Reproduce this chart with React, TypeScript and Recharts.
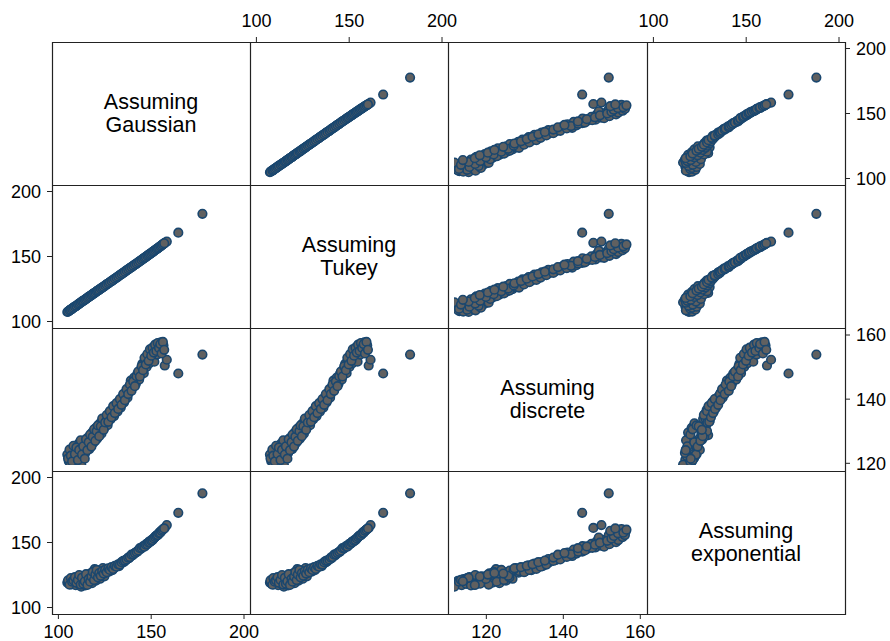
import React from 'react';
import { ScatterChart, Scatter, XAxis, YAxis } from 'recharts';

// ---------------- data ----------------
const variableKeys = ['gaussian', 'tukey', 'discrete', 'exponential'];
const diagonalLabels = [
  ['Assuming', 'Gaussian'],
  ['Assuming', 'Tukey'],
  ['Assuming', 'discrete'],
  ['Assuming', 'exponential'],
];

const gaussian = [
  104.8, 105.6, 106.3, 107.0, 107.8, 108.5, 109.3, 110.1, 110.9, 111.6,
  112.3, 113.0, 113.8, 114.5, 115.2, 115.9, 116.7, 117.4, 118.1, 118.8,
  119.5, 120.2, 120.9, 121.7, 122.4, 123.2, 124.0, 124.8, 125.6, 126.5,
  127.3, 128.2, 129.1, 130.0, 130.9, 131.8, 132.7, 133.6, 134.5, 135.4,
  136.3, 137.2, 138.1, 139.0, 139.9, 140.8, 141.7, 142.6, 143.5, 144.4,
  145.2, 146.0, 146.8, 147.5, 148.2, 148.9, 149.6, 150.3, 151.0, 151.7,
  152.4, 153.1, 153.8, 154.5, 155.2, 155.9, 156.6, 157.3, 158.4, 164.6,
  177.6,
  105.2, 106.0, 106.7, 107.4, 108.1, 108.9, 109.7, 110.5, 111.2, 112.0,
  112.7, 113.4, 114.2, 114.9, 115.6, 116.3, 117.1, 117.8, 118.5, 119.2,
  119.9, 120.6, 121.3, 122.0,
  122.8, 123.6, 124.4, 125.2, 126.0, 126.9, 127.7, 128.6, 129.5, 130.4,
  131.3, 132.2, 133.1, 134.0, 134.9, 135.8, 136.7, 137.6, 138.5, 139.4,
  140.3, 141.2, 142.1, 143.0, 143.9,
  144.8, 145.6, 146.4, 147.1, 147.9, 148.6, 149.3, 150.0, 150.7, 151.4,
  152.1, 152.8, 153.5, 154.2, 154.9, 155.6, 156.3, 157.0,
];
const tukey = [
  107.3, 108.0, 108.9, 109.4, 110.3, 111.1, 111.7, 112.6, 113.3, 114.2,
  114.8, 115.6, 116.2, 117.1, 117.7, 118.4, 119.3, 119.8, 120.6, 121.4,
  122.0, 122.7, 123.5, 124.1, 124.9, 125.6, 126.5, 127.2, 128.1, 128.9,
  129.8, 130.7, 131.5, 132.4, 133.4, 134.2, 135.2, 136.1, 137.0, 137.8,
  138.8, 139.7, 140.6, 141.5, 142.4, 143.3, 144.2, 145.1, 146.0, 146.9,
  147.8, 148.6, 149.4, 150.1, 150.9, 151.6, 152.3, 153.0, 153.8, 154.5,
  155.2, 155.9, 156.7, 157.4, 158.2, 158.9, 159.7, 160.5, 161.5, 168.3,
  182.8,
  107.6, 108.6, 109.1, 109.9, 110.6, 111.4, 112.1, 113.0, 113.8, 114.5,
  115.3, 115.9, 116.7, 117.4, 118.1, 118.9, 119.5, 120.3, 121.0, 121.7,
  122.3, 123.2, 123.8, 124.5,
  125.3, 126.1, 126.8, 127.7, 128.5, 129.4, 130.2, 131.1, 132.0, 132.9,
  133.8, 134.7, 135.6, 136.5, 137.4, 138.3, 139.3, 140.1, 141.0, 141.9,
  142.8, 143.7, 144.6, 145.5, 146.4,
  147.3, 148.2, 149.0, 149.7, 150.5, 151.2, 151.9, 152.6, 153.4, 154.1,
  154.8, 155.6, 156.3, 157.0, 157.8, 158.5, 159.3, 160.1,
];
const discrete = [
  115.4, 113.0, 112.6, 116.8, 114.1, 117.9, 113.6, 116.2, 119.4, 114.8,
  111.7, 117.3, 120.2, 116.0, 118.9, 121.6, 117.4, 120.8, 123.4, 119.6,
  122.5, 125.1, 121.2, 124.3, 126.8, 123.0, 127.6, 125.2, 128.4, 126.1,
  130.0, 128.3, 131.7, 129.4, 132.8, 131.0, 134.6, 132.5, 136.2, 134.4,
  138.0, 136.1, 139.5, 142.3, 139.8, 143.4, 141.1, 144.9, 142.7, 146.2,
  148.4, 145.0, 149.8, 147.3, 151.2, 148.6, 152.6, 150.1, 153.5, 149.2,
  154.6, 151.8, 155.8, 152.9, 156.2, 153.7, 155.1, 147.8, 149.9, 144.9,
  151.8,
  114.0, 117.2, 115.0, 112.9, 118.6, 115.6, 118.0, 113.4, 117.1, 120.6,
  115.4, 118.4, 113.9, 121.0, 117.0, 119.9, 122.7, 118.3, 121.9, 124.6,
  120.4, 123.9, 126.0, 122.1,
  125.7, 128.5, 124.4, 127.1, 129.8, 127.3, 131.2, 129.0, 133.0, 130.5,
  134.1, 132.0, 135.6, 133.5, 137.4, 135.2, 139.2, 137.4, 140.9, 138.6,
  142.0, 140.3, 143.9, 145.6, 143.8,
  147.5, 146.1, 150.6, 148.2, 152.0, 149.5, 153.7, 151.4, 154.3, 152.5,
  155.4, 153.1, 156.0, 154.2, 155.6, 152.2, 156.4, 153.5,
];
const exponential = [
  119.2, 118.6, 120.5, 117.8, 121.9, 118.9, 117.2, 120.3, 122.8, 118.1,
  116.0, 119.6, 121.4, 117.0, 123.9, 119.1, 121.0, 126.2, 118.7, 122.4,
  129.5, 120.6, 124.8, 127.7, 122.1, 125.9, 130.3, 124.0, 126.8, 128.4,
  127.5, 129.9, 128.7, 130.6, 131.3, 132.5, 131.9, 133.8, 134.6, 135.0,
  136.4, 137.3, 138.0, 139.6, 140.1, 141.5, 142.3, 143.0, 144.6, 145.1,
  146.3, 147.2, 147.6, 148.9, 149.4, 150.6, 150.8, 152.1, 152.5, 153.8,
  154.9, 155.6, 156.2, 157.8, 158.5, 159.6, 160.4, 161.2, 163.4, 172.8,
  187.8,
  120.9, 117.5, 122.6, 119.9, 120.8, 123.3, 119.0, 121.2, 125.0, 117.6,
  122.9, 118.3, 120.1, 125.6, 117.4, 122.0, 119.9, 123.8, 127.4, 121.1,
  125.3, 128.9, 123.2, 126.5,
  124.4, 128.0, 126.1, 129.1, 127.2, 130.1, 128.9, 131.0, 129.7, 132.1,
  131.4, 133.2, 133.0, 134.9, 135.8, 136.1, 137.0, 138.4, 138.9, 140.6,
  140.9, 141.9, 142.8, 143.9, 145.6,
  145.9, 147.0, 146.8, 148.3, 148.7, 149.9, 150.2, 151.3, 151.9, 153.1,
  154.2, 155.0, 155.7, 157.1, 157.5, 159.0, 159.9, 160.8,
];

const continuousTicks = [100, 150, 200];
const discreteTicks = [120, 140, 160];

const rows = gaussian.map((g, i) => ({
  gaussian: g,
  tukey: tukey[i],
  discrete: discrete[i],
  exponential: exponential[i],
}));

// ---------------- layout / style ----------------
const COL_EDGES = [52, 250, 448, 647, 845];
const ROW_EDGES = [42, 185, 328, 471, 614];
const LEFT_W = 52;
const RIGHT_W = 45;
const TOP_H = 42;
const BOTTOM_H = 27;
const M = 24; // extra room so edge tick labels are not clipped
const TOP_AXIS_COLS = [1, 3];
const BOTTOM_AXIS_COLS = [0, 2];
const LEFT_AXIS_ROWS = [1, 3];
const RIGHT_AXIS_ROWS = [0, 2];
const FONT = '"Liberation Sans", Arial, Helvetica, sans-serif';
const LINE = '#222222';
const tickStyle = { fill: '#000000', fontSize: 18, fontFamily: FONT };

const H_SCALE: Record<string, any> = {
  gaussian: { domain: [100, 200], padding: { left: 6.4, right: 6 }, ticks: continuousTicks },
  tukey: { domain: [100, 200], padding: { left: 6.4, right: 6 }, ticks: continuousTicks },
  exponential: { domain: [100, 200], padding: { left: 6.4, right: 6 }, ticks: continuousTicks },
  discrete: { domain: [111.6, 160], padding: { left: 6, right: 6.7 }, ticks: discreteTicks },
};
const V_SCALE: Record<string, any> = {
  gaussian: { domain: [100, 200], padding: { top: 6.5, bottom: 6.5 }, ticks: continuousTicks },
  tukey: { domain: [100, 200], padding: { top: 6.5, bottom: 6.5 }, ticks: continuousTicks },
  exponential: { domain: [100, 200], padding: { top: 6.5, bottom: 6.5 }, ticks: continuousTicks },
  discrete: { domain: [111.6, 160], padding: { top: 4, bottom: 6 }, ticks: discreteTicks },
};
// the vertical tick scale printed beside the "discrete" row
const DISCRETE_V_TICK_SCALE = { domain: [120, 160], padding: { top: 7, bottom: 7.7 } };

const Marker = (props: any) => {
  const { cx, cy } = props;
  if (cx == null || cy == null) return null;
  return <circle cx={cx} cy={cy} r={4.3} fill="#606060" stroke="#1a476f" strokeWidth={1.6} />;
};
const NoMarker = () => null;

function Panel({ r, c }: { r: number; c: number }) {
  const x0 = COL_EDGES[c];
  const x1 = COL_EDGES[c + 1];
  const y0 = ROW_EDGES[r];
  const y1 = ROW_EDGES[r + 1];
  const pw = x1 - x0;
  const ph = y1 - y0;
  const xKey = variableKeys[c];
  const yKey = variableKeys[r];
  const hasTop = r === 0 && TOP_AXIS_COLS.includes(c);
  const hasBottom = r === 3 && BOTTOM_AXIS_COLS.includes(c);
  const hasLeft = c === 0 && LEFT_AXIS_ROWS.includes(r);
  const hasRight = c === 3 && RIGHT_AXIS_ROWS.includes(r);
  const width = pw + (hasLeft ? LEFT_W : 0) + (hasRight ? RIGHT_W : 0) + 2 * M;
  const height = ph + (hasTop ? TOP_H : 0) + (hasBottom ? BOTTOM_H : 0) + 2 * M;
  const left = x0 - (hasLeft ? LEFT_W : 0) - M;
  const top = y0 - (hasTop ? TOP_H : 0) - M;
  const hs = H_SCALE[xKey];
  const vs = V_SCALE[yKey];
  const showX = hasTop || hasBottom;
  const showY = hasLeft || hasRight;
  const separateYTicks = showY && yKey === 'discrete';

  return (
    <div style={{ position: 'absolute', left, top, width, height }}>
      <ScatterChart width={width} height={height} margin={{ top: M, right: M, bottom: M, left: M }}>
        <XAxis
          xAxisId="x"
          type="number"
          dataKey={xKey}
          domain={hs.domain}
          padding={hs.padding}
          ticks={hs.ticks}
          interval={0}
          allowDataOverflow
          hide={!showX}
          orientation={hasTop ? 'top' : 'bottom'}
          height={hasTop ? TOP_H : BOTTOM_H}
          tickSize={5}
          tickMargin={hasTop ? 10 : 6}
          axisLine={false}
          stroke={LINE}
          tickLine={{ stroke: LINE }}
          tick={tickStyle}
        />
        {separateYTicks && (
          <YAxis
            yAxisId="yticks"
            type="number"
            dataKey={yKey}
            domain={DISCRETE_V_TICK_SCALE.domain}
            padding={DISCRETE_V_TICK_SCALE.padding}
            ticks={discreteTicks}
            interval={0}
            allowDataOverflow
            orientation="right"
            width={RIGHT_W}
            tickSize={5}
            tickMargin={6}
            axisLine={false}
            stroke={LINE}
            tickLine={{ stroke: LINE }}
            tick={tickStyle}
          />
        )}
        <YAxis
          yAxisId="y"
          type="number"
          dataKey={yKey}
          domain={vs.domain}
          padding={vs.padding}
          ticks={vs.ticks}
          interval={0}
          allowDataOverflow
          hide={!showY || separateYTicks}
          orientation={hasRight ? 'right' : 'left'}
          width={separateYTicks ? 0 : hasLeft ? LEFT_W : RIGHT_W}
          tickSize={5}
          tickMargin={6}
          axisLine={false}
          stroke={LINE}
          tickLine={{ stroke: LINE }}
          tick={tickStyle}
        />
        {separateYTicks && (
          <Scatter xAxisId="x" yAxisId="yticks" data={rows} shape={NoMarker} isAnimationActive={false} />
        )}
        <Scatter
          xAxisId="x"
          yAxisId="y"
          data={rows}
          shape={Marker}
          isAnimationActive={false}
        />
      </ScatterChart>
    </div>
  );
}

function DiagonalLabel({ i }: { i: number }) {
  const x0 = COL_EDGES[i];
  const y0 = ROW_EDGES[i];
  const w = COL_EDGES[i + 1] - x0;
  const h = ROW_EDGES[i + 1] - y0;
  return (
    <div
      style={{
        position: 'absolute',
        left: x0,
        top: y0,
        width: w,
        height: h,
        display: 'flex',
        alignItems: 'center',
        justifyContent: 'center',
        flexDirection: 'column',
        fontFamily: FONT,
        fontSize: 21.5,
        lineHeight: '23px',
        color: '#000',
        textAlign: 'center',
      }}
    >
      {diagonalLabels[i].map((t) => (
        <div key={t}>{t}</div>
      ))}
    </div>
  );
}

export default function App() {
  const panels: React.ReactNode[] = [];
  for (let r = 0; r < 4; r++) {
    for (let c = 0; c < 4; c++) {
      if (r === c) panels.push(<DiagonalLabel key={`d${r}`} i={r} />);
      else panels.push(<Panel key={`p${r}${c}`} r={r} c={c} />);
    }
  }
  const xL = COL_EDGES[0];
  const xR = COL_EDGES[4];
  const yT = ROW_EDGES[0];
  const yB = ROW_EDGES[4];
  return (
    <div style={{ position: 'absolute', left: 0, top: 0, width: 890, height: 641, background: '#fff', overflow: 'hidden' }}>
      <svg width={890} height={641} style={{ position: 'absolute', left: 0, top: 0 }}>
        {COL_EDGES.map((x) => (
          <line key={`v${x}`} x1={x + 0.5} x2={x + 0.5} y1={yT} y2={yB + 1} stroke={LINE} strokeWidth={1.2} />
        ))}
        {ROW_EDGES.map((y) => (
          <line key={`h${y}`} x1={xL} x2={xR + 1} y1={y + 0.5} y2={y + 0.5} stroke={LINE} strokeWidth={1.2} />
        ))}
      </svg>
      {panels}
    </div>
  );
}
